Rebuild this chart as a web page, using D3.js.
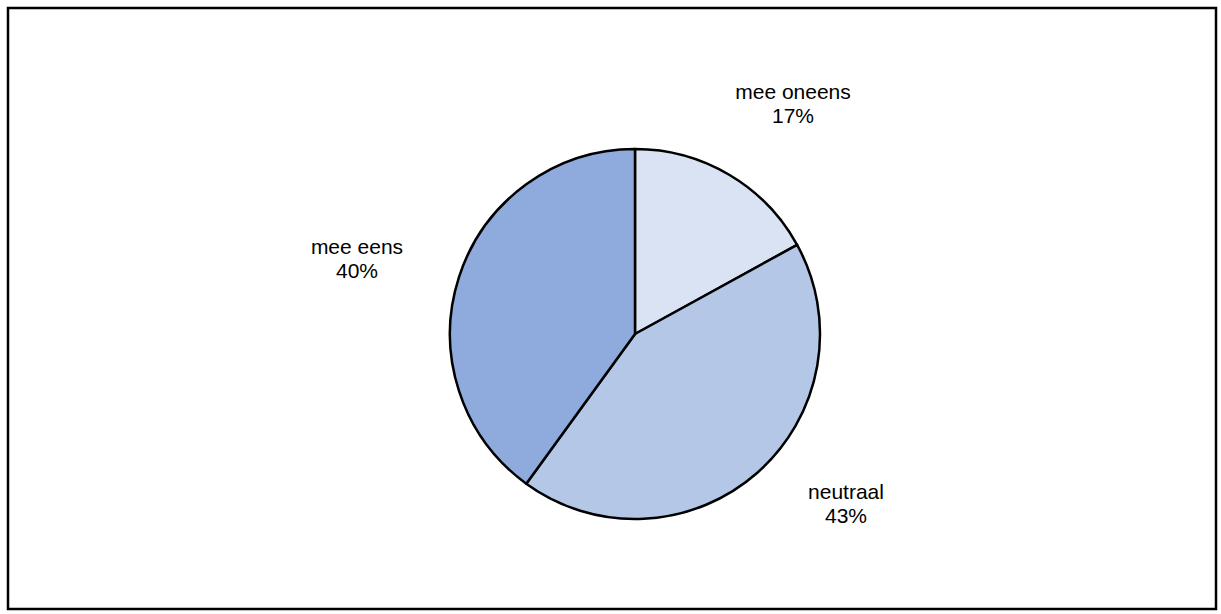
<!DOCTYPE html>
<html><head><meta charset="utf-8">
<script src="https://cdn.jsdelivr.net/npm/d3@7"></script>
<style>body{margin:0;background:#fff}svg{display:block}</style>
</head><body>
<svg id="c" width="1221" height="614"></svg>
<script>
const categories = ["mee oneens", "neutraal", "mee eens"];
const values = [17, 43, 40];
const colors = ["#dae3f3", "#b4c7e7", "#8faadc"];
const labelPos = [[793, 99], [846, 499], [357, 254]];

const svg = d3.select("#c");
svg.append("rect").attr("x", 8).attr("y", 8).attr("width", 1208).attr("height", 601)
  .attr("fill", "#fff").attr("stroke", "#000").attr("stroke-width", 2.5);

const cx = 635, cy = 334, r = 185;
const pie = d3.pie().sort(null).value(d => d)(values);
const arc = d3.arc().innerRadius(0).outerRadius(r);
const g = svg.append("g").attr("transform", `translate(${cx},${cy})`);
g.selectAll("path").data(pie).join("path")
  .attr("d", arc).attr("fill", (d, i) => colors[i])
  .attr("stroke", "#000").attr("stroke-width", 2.5).attr("stroke-linejoin", "round");

const lab = svg.append("g").attr("font-family", "Arial, 'Liberation Sans', sans-serif")
  .attr("font-size", 21).attr("fill", "#000").attr("text-anchor", "middle");
pie.forEach((d, i) => {
  const [x, y] = labelPos[i];
  lab.append("text").attr("x", x).attr("y", y).text(categories[i]);
  lab.append("text").attr("x", x).attr("y", y + 23.5).text(values[i] + "%");
});
</script>
</body></html>
